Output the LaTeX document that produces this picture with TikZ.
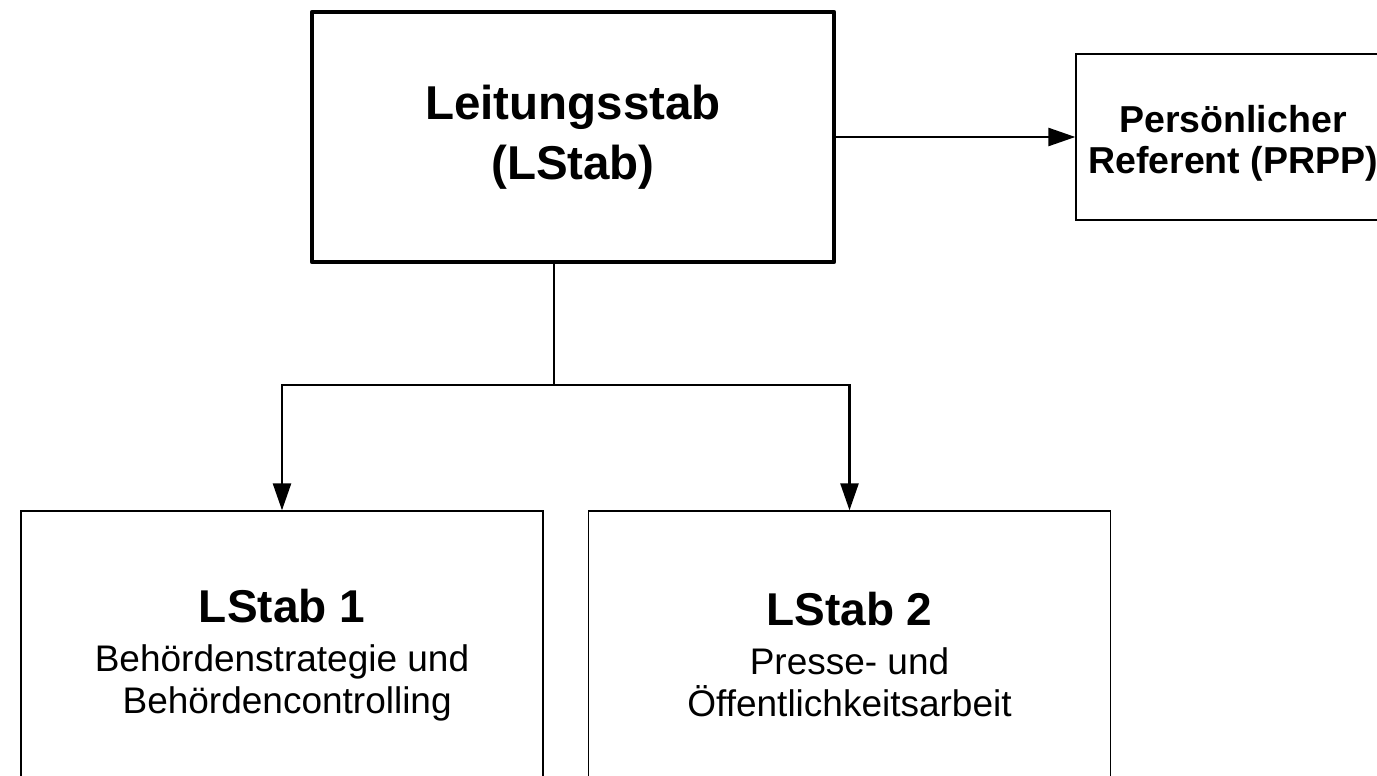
\documentclass[tikz,border=0pt]{standalone}
\usepackage{fontspec}
\setmainfont{Liberation Sans}
\usetikzlibrary{arrows.meta}
\begin{document}
\begin{tikzpicture}[x=1pt,y=-1pt,
  mainbox/.style={draw, line width=4.5pt, line join=round, minimum width=522pt, minimum height=250pt, align=center, inner sep=0pt, font={\fontsize{47.5}{60}\selectfont\bfseries}},
  sidebox/.style={draw, line width=1.3pt, minimum width=314pt, minimum height=166pt, inner sep=0pt},
  sidetext/.style={align=center, inner sep=0pt, font={\fontsize{37.5}{41}\selectfont\bfseries}},
  unitbox/.style={draw, line width=1.3pt, minimum width=522pt, minimum height=288pt, align=center, inner sep=0pt, font={\fontsize{37}{42}\selectfont}},
  conn/.style={line width=2.5pt, -{Triangle[length=27pt,width=18pt]}},
  line/.style={line width=2.5pt}]
\useasboundingbox (0,0) rectangle (1377,776);
\fill[white] (0,0) rectangle (1377,776);
\node[mainbox] (main) at (573,137) {Leitungsstab\\(LStab)};
\node[sidebox] (prpp) at (1233,137) {};
\node[sidetext] (prpptext) at (1233,143) {Persönlicher\\Referent (PRPP)};
\node[unitbox] (b1) at (282,655) {{\fontsize{46}{47}\selectfont\bfseries LStab 1}\\[7pt]Behördenstrategie und\\\ Behördencontrolling};
\node[unitbox] (b2) at (849.5,655) {{\fontsize{46}{47}\selectfont\bfseries LStab 2}\\[7pt]Presse- und\\Öffentlichkeitsarbeit};
\coordinate (j) at (554,385);
\draw[line] (main.south -| j) -- (j);
\draw[conn] (j) -| (b1.north);
\draw[conn] (j) -| (b2.north);
\draw[conn] (main.east) -- (prpp.west);
\end{tikzpicture}
\end{document}
